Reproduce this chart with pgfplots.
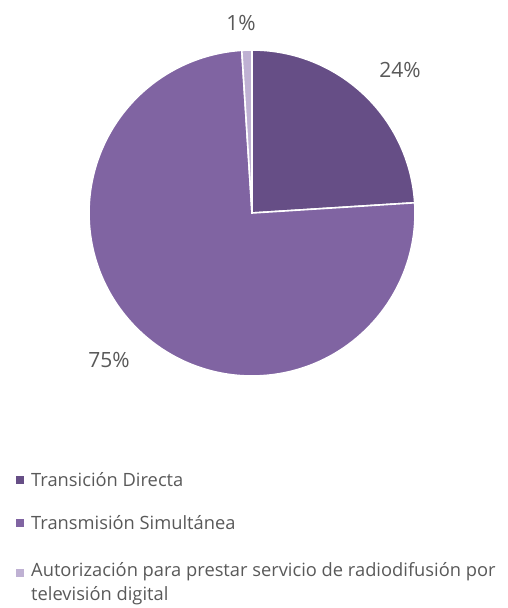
\documentclass[border=0pt]{standalone}
\usepackage{pgfplots}
\pgfplotsset{compat=1.18}
\usepackage{fontspec}
\setmainfont{Open Sans}
\definecolor{cDark}{HTML}{664E86}
\definecolor{cMed}{HTML}{8064A2}
\definecolor{cLight}{HTML}{BFB1D3}
\definecolor{txt}{HTML}{595959}
\begin{document}
\begin{tikzpicture}
\begin{axis}[
  width=508pt, height=608pt, scale only axis,
  xmin=0, xmax=508, ymin=0, ymax=608,
  hide axis, clip=false,
]
\path[use as bounding box] (rel axis cs:0,0) rectangle (rel axis cs:1,1);
% values (percent): 24, 75, 1 ; start at 90 deg, clockwise
\pgfmathsetmacro{\aA}{90}
\pgfmathsetmacro{\aB}{\aA-24*3.6}
\pgfmathsetmacro{\aC}{\aB-75*3.6}
\pgfmathsetmacro{\aD}{\aC-1*3.6}
\addplot[draw=none, forget plot] coordinates {(252,395)};
\fill[cDark, draw=white, line width=1.6pt, line join=miter] (axis cs:252,395) -- ++(\aA:163pt) arc[start angle=\aA, end angle=\aB, radius=163pt] -- cycle;
\fill[cMed, draw=white, line width=1.6pt, line join=miter] (axis cs:252,395) -- ++(\aB:163pt) arc[start angle=\aB, end angle=\aC, radius=163pt] -- cycle;
\fill[cLight, draw=white, line width=1.6pt, line join=miter] (axis cs:252,395) -- ++(\aC:163pt) arc[start angle=\aC, end angle=\aD, radius=163pt] -- cycle;
% data labels
\node[txt, font=\fontsize{21}{25}\selectfont] at (axis cs:400,538) {24\%};
\node[txt, font=\fontsize{21}{25}\selectfont] at (axis cs:241,585) {1\%};
\node[txt, font=\fontsize{21}{25}\selectfont] at (axis cs:109,248) {75\%};
% legend
\fill[cDark] (axis cs:16,124) rectangle (axis cs:23.5,131.5);
\node[txt, anchor=west, inner sep=0pt, font=\fontsize{18.3}{24}\selectfont] at (axis cs:31,128) {Transición Directa};
\fill[cMed] (axis cs:16,81) rectangle (axis cs:23.5,88.5);
\node[txt, anchor=west, inner sep=0pt, font=\fontsize{18.3}{24}\selectfont] at (axis cs:31,85) {Transmisión Simultánea};
\fill[cLight] (axis cs:16,31) rectangle (axis cs:23.5,38.5);
\node[txt, anchor=north west, inner sep=0pt, align=left, font=\fontsize{18.3}{24}\selectfont] at (axis cs:31,46) {Autorización para prestar servicio de radiodifusión por\\televisión digital};
\end{axis}
\end{tikzpicture}
\end{document}
